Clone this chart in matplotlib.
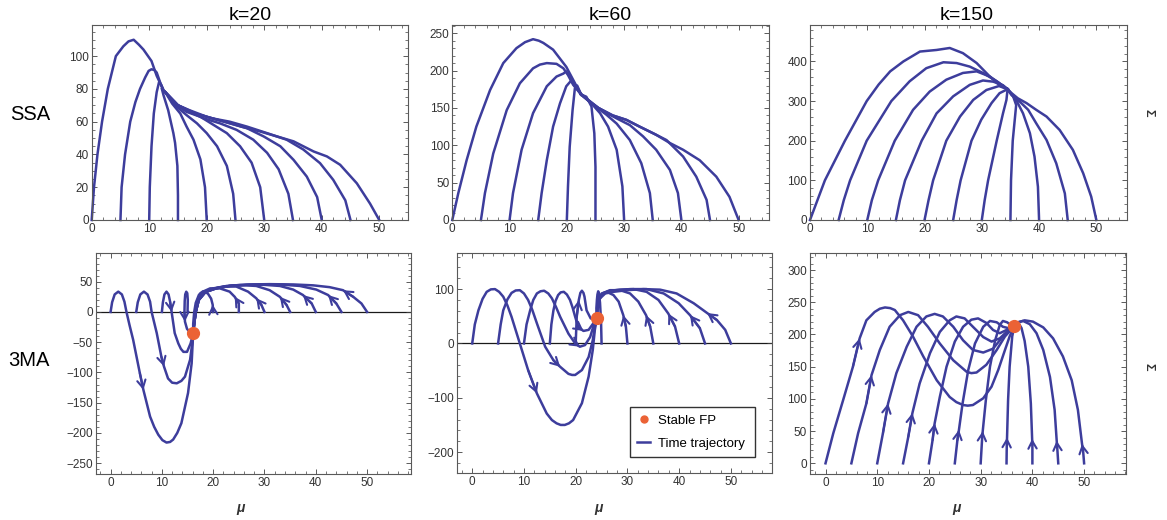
import matplotlib
matplotlib.use('Agg')
import matplotlib.pyplot as plt
from matplotlib.ticker import MultipleLocator

plt.rcParams['font.family'] = ['Liberation Sans', 'DejaVu Sans']

blue = '#3d3d9c'
orange = '#eb6235'

# starting points of the trajectories (mu axis)
starts = [0, 5, 10, 15, 20, 25, 30, 35, 40, 45, 50]

# ---- SSA, k=20 ----
ssa20 = [
    [(0, 0), (0.4, 20), (1.0, 40), (1.8, 60), (2.8, 80), (4.2, 100), (5.5, 106), (6.4, 109), (7.3, 110), (8.2, 107), (9, 104), (10.4, 97), (11.3, 88), (12.5, 79)],
    [(5, 0), (5.2, 20), (5.8, 40), (6.7, 60), (7.6, 72), (8.4, 80), (9.3, 87), (9.9, 91), (10.4, 92), (10.9, 91.5), (11.3, 90), (11.9, 84), (12.5, 79)],
    [(10, 0), (10.1, 20), (10.4, 45), (10.8, 65), (11.3, 78), (11.7, 84), (12, 83), (12.5, 79)],
    [(15, 0), (15, 15), (14.9, 33), (14.5, 47), (14.2, 53), (13.3, 67), (12.5, 76), (12.2, 80)],
    [(20, 0), (19.7, 20), (18.9, 37), (17.7, 49), (16.5, 57), (15.4, 65), (14, 71), (12.8, 78)],
    [(25, 0), (24.6, 16), (23.5, 33), (21.8, 45), (20, 53), (18.3, 59), (16.5, 64), (14.5, 70), (12.8, 78)],
    [(30, 0), (29.3, 20), (27.8, 35), (25.8, 45), (23.5, 53), (21.2, 58), (18.9, 63), (16.5, 66), (14.5, 71), (12.8, 78)],
    [(35, 0), (34.2, 16), (32.5, 31), (30.5, 41), (28.1, 49), (25.2, 55), (22.3, 59), (19.5, 62), (17, 66), (14.5, 71), (12.8, 78)],
    [(40, 0), (39.2, 14), (37.4, 26.5), (35.1, 36.7), (32.8, 45), (29.9, 51), (27, 56), (24.1, 59), (21, 62), (18, 65), (15, 70), (12.8, 78)],
    [(45, 0), (44.1, 12), (42, 24.5), (39.7, 34.7), (36.8, 43), (33.9, 49), (30.5, 53), (27, 57), (24, 60), (21, 62), (18, 65), (15, 70), (12.8, 78)],
    [(50, 0), (48.4, 10), (46.1, 22.4), (43.2, 33.7), (40.9, 38.8), (38.6, 41.8), (35.1, 48), (32.2, 51), (29.3, 54), (26, 57), (23, 60), (20, 63), (17, 67), (15, 70), (12.8, 78)],
]

# ---- SSA, k=60 ----
ssa60 = [
    [(0, 0), (1.05, 36), (2.5, 80), (4.2, 125), (6.6, 174), (8.9, 210), (11.2, 230), (12.7, 238), (14.1, 242), (15.1, 240), (15.9, 237), (17.6, 228), (18.8, 216), (19.9, 205), (20.8, 192), (21.7, 179), (22.5, 168)],
    [(5, 0), (5.7, 36), (7.15, 89), (9.5, 147), (11.8, 183), (14.1, 203), (15.3, 208), (16.5, 210), (18.2, 209), (19.4, 203), (20.2, 194), (21.1, 181), (22.5, 168)],
    [(10, 0), (10.6, 36), (12.1, 94), (14.1, 143), (16.5, 179), (18.2, 192), (19.4, 196), (19.9, 199), (20.5, 192), (21.3, 180), (22.5, 168)],
    [(15, 0), (15.6, 36), (16.5, 80), (17.6, 125), (18.8, 156), (19.9, 179), (20.8, 187), (21.5, 180), (22.5, 168)],
    [(20, 0), (20.2, 45), (20.5, 98), (21, 147), (21.4, 176), (21.8, 180), (22.5, 168)],
    [(25, 0), (25, 71), (24.8, 116), (24.3, 152), (23.4, 165), (22.5, 168)],
    [(30, 0), (29.7, 45), (28.7, 94), (27.2, 125), (25.8, 143), (24.3, 156), (22.5, 168)],
    [(35, 0), (34.5, 36), (33, 76), (31, 107), (28.7, 129), (26.9, 141), (25, 152), (22.5, 168)],
    [(40, 0), (39.4, 36), (38, 67), (35.6, 94), (33.3, 112), (31, 127), (28.7, 136), (26.5, 145), (24.5, 155), (22.5, 168)],
    [(45, 0), (44.4, 27), (42.6, 58), (40.3, 85), (37.4, 107), (35.1, 116), (32.7, 125), (30.4, 134), (28, 140), (25.5, 150), (22.5, 168)],
    [(50, 0), (48.4, 31), (46.1, 58), (43.2, 80), (40.3, 94), (38, 103), (35.6, 114), (32.7, 125), (30.4, 134), (28, 140), (25.5, 150), (22.5, 168)],
]

# ---- SSA, k=150 ----
ssa150 = [
    [(0, 0), (2.6, 100), (6.1, 200), (9.9, 300), (12, 342), (14, 375), (16.3, 400), (19.2, 425), (22.1, 429), (24.4, 434), (26.7, 421), (29.1, 396), (31.4, 362), (33.1, 340), (34.5, 330)],
    [(5, 0), (5.9, 50), (7, 100), (9.9, 200), (14.2, 300), (17.4, 350), (20.3, 383), (23.3, 398), (25.6, 396), (27.9, 387), (30.2, 371), (32.6, 350), (34.5, 330)],
    [(10, 0), (10.8, 50), (11.9, 100), (14.8, 200), (18, 278), (20.9, 324), (23.8, 354), (26.7, 371), (29.1, 375), (31.4, 362), (33.1, 345), (34.5, 330)],
    [(15, 0), (15.7, 50), (16.6, 100), (19.5, 200), (22.1, 269), (25, 312), (27.9, 341), (30.2, 352), (32, 349), (33.7, 340), (34.5, 330)],
    [(20, 0), (20.7, 50), (21.5, 100), (23.8, 200), (26.2, 261), (28.5, 303), (30.8, 328), (33, 338), (34.5, 330)],
    [(25, 0), (25.6, 50), (26.3, 100), (28.2, 200), (29.9, 253), (31.7, 295), (33.1, 320), (34.5, 330)],
    [(30, 0), (30.5, 50), (31.1, 100), (32.6, 200), (33.7, 269), (34.3, 303), (34.5, 330)],
    [(35, 0), (35.1, 100), (35.4, 200), (35.8, 260), (36, 290), (35.4, 315), (34.5, 330)],
    [(40, 0), (39.8, 84), (39.2, 160), (38.4, 219), (37.2, 269), (36, 303), (34.9, 322), (34.5, 330)],
    [(45, 0), (44.5, 67), (43, 143), (41.3, 202), (39.5, 244), (38.1, 278), (36.6, 299), (35.2, 315), (34.5, 330)],
    [(50, 0), (49.1, 59), (47.7, 118), (45.9, 177), (43.6, 227), (41.3, 261), (39.5, 278), (37.8, 295), (36.3, 307), (35.2, 320), (34.5, 330)],
]

# ---- 3MA, k=20 ----
fp20 = (16.1, -35)
ma20 = [
    [(0, 0), (0.3, 16), (0.8, 29), (1.5, 33.6), (2.2, 29), (2.7, 17), (3.1, 0), (3.7, -22), (4.4, -46), (5.7, -101), (6.4, -129), (7.7, -173), (8.5, -190), (9.3, -203), (10.1, -212), (10.9, -216), (11.6, -215), (12.2, -211), (13, -200), (13.8, -184), (15.1, -134), (15.8, -85), (16.1, -35)],
    [(5, 0), (5.3, 16), (5.8, 29), (6.5, 33.6), (7.2, 29), (7.7, 17), (8, 0), (9, -35), (9.9, -74), (10.4, -90), (11.2, -110), (12, -117), (12.9, -118), (13.8, -114), (14.5, -107), (15.5, -79), (16, -46), (16.1, -35)],
    [(10, 0), (10.2, 16), (10.5, 29), (10.9, 33.6), (11.3, 29), (11.6, 17), (11.9, 0), (12.5, -35), (13.2, -52), (13.7, -61), (14.2, -66), (14.9, -66), (15.6, -52), (16.1, -35)],
    [(15, 0), (15.05, 20), (14.95, 31), (14.75, 33.5), (14.55, 29), (14.45, 18), (14.4, 0), (14.5, -16), (14.9, -28), (15.5, -34), (16.1, -35)],
    [(20, 0), (19.9, 12), (19.6, 22), (19, 30), (18.5, 33), (18, 34), (17.5, 31), (17.2, 28), (16.6, 15), (16.3, 0), (16.1, -20), (16.1, -35)],
    [(25, 0), (25, 14), (24.2, 25), (23.2, 33.6), (21.3, 39), (19.4, 39), (18, 33.6), (17.1, 20), (16.6, 0), (16.3, -19), (16.1, -35)],
    [(30, 0), (29.4, 11.6), (28.4, 22.6), (26.8, 33.6), (24.5, 42), (22, 42), (20, 39), (18.2, 33), (17.1, 20), (16.6, 0), (16.3, -19), (16.1, -35)],
    [(35, 0), (34.3, 11.6), (33, 25), (31, 36), (28.4, 43), (25.2, 44.6), (22.6, 43), (20.4, 39), (18.4, 33), (17.2, 20), (16.6, 0), (16.3, -19), (16.1, -35)],
    [(40, 0), (39.2, 14), (37.5, 28), (35.6, 37), (33, 43), (29.7, 45), (26.5, 44.6), (23.2, 43), (20.6, 39), (18.5, 33), (17.2, 20), (16.6, 0), (16.3, -19), (16.1, -35)],
    [(45, 0), (44, 14), (42.4, 28), (40.1, 37), (36.9, 43), (33.6, 45), (30, 45.5), (26.5, 45), (23.2, 43), (20.6, 39), (18.5, 33), (17.2, 20), (16.6, 0), (16.3, -19), (16.1, -35)],
    [(50, 0), (48.9, 14), (47.3, 25), (45.3, 36), (42.7, 41), (39.5, 44), (35.6, 45.5), (31, 46), (27, 45.5), (23.5, 43.5), (20.6, 39.5), (18.5, 33), (17.2, 20), (16.6, 0), (16.3, -19), (16.1, -35)],
]
arrows20 = [10, 9, 6, 7, 1, 2, 2, 2, 2, 2, 3]

# ---- 3MA, k=60 ----
fp60 = (24.1, 47)
ma60 = [
    [(0, 0), (0.5, 35), (1.2, 61), (2, 82), (2.8, 95), (3.6, 99.5), (4.4, 100), (5.2, 95), (6, 86), (6.8, 70), (7.6, 49), (9.2, 0), (10.8, -49), (12.5, -92), (14.4, -129), (15.4, -141), (16.3, -147), (17.1, -150), (17.9, -150), (18.7, -147), (19.5, -141), (21.2, -110), (22.5, -61), (23.3, -12), (23.7, 25), (24.1, 47)],
    [(5, 0), (5.5, 35), (6, 61), (6.8, 81), (7.6, 93), (8.4, 97.5), (9.2, 98), (10, 92), (10.8, 80), (11.6, 62), (12.5, 37), (14.1, -6), (15.7, -31), (17, -43), (18.6, -56), (19.3, -58), (19.9, -58), (21.2, -49), (22.5, -25), (23.3, 6), (23.7, 31), (24.1, 47)],
    [(10, 0), (10.5, 35), (11.2, 61), (11.8, 80), (12.5, 92), (13.2, 96), (13.9, 97), (14.7, 92), (15.4, 83), (16.2, 67), (17, 49), (18.6, 18), (19.9, 0), (20.8, -6), (21.8, -3), (22.8, 12), (23.4, 31), (24.1, 47)],
    [(15, 0), (15.3, 35), (15.7, 61), (16.1, 78), (16.6, 89), (17.1, 94), (17.7, 95), (18.3, 90), (18.9, 80), (19.4, 66), (19.9, 49), (20.5, 30), (21.5, 23), (22.5, 25), (23.4, 37), (24.1, 47)],
    [(20, 0), (20.2, 49), (20.6, 80), (20.9, 93), (21.2, 97), (21.5, 93), (21.7, 86), (22.1, 61), (22.9, 46), (24.1, 47)],
    [(25, 0), (24.9, 40), (24.7, 75), (24.5, 92), (24.35, 96), (24.2, 90), (24.1, 80), (24, 65), (24.1, 47)],
    [(30, 0), (29.7, 31), (29.2, 52), (28.3, 77), (27.3, 89), (26, 95), (25, 92), (24.4, 80), (24.1, 61), (24.1, 47)],
    [(35, 0), (34.4, 31), (33.6, 52), (32.1, 77), (30.5, 92), (28.6, 98), (26.6, 98), (25.4, 93), (24.6, 83), (24.2, 67), (24.1, 47)],
    [(40, 0), (39.2, 31), (37.9, 55), (36, 80), (33.7, 95), (31.2, 100), (28.6, 99), (26.6, 97), (25.3, 92), (24.5, 80), (24.2, 65), (24.1, 47)],
    [(45, 0), (44, 28), (42.1, 52), (39.9, 74), (37, 92), (33.7, 100), (30.5, 100), (27.8, 98), (25.8, 94), (24.7, 85), (24.2, 67), (24.1, 47)],
    [(50, 0), (48.9, 25), (47.3, 43), (45.4, 56), (42.8, 74), (39.5, 92), (36.3, 99), (33.1, 100), (29.9, 98), (27.3, 95), (25.7, 92), (24.7, 83), (24.2, 65), (24.1, 47)],
]
arrows60 = [13, 13, 13, 12, 2, None, 2, 2, 2, 2, 3]

# ---- 3MA, k=150 ----
fp150 = (36.5, 213)
ma150 = [
    [(0, 0), (1.5, 46.6), (3.4, 98), (5.3, 150), (6.6, 194), (7.9, 222), (9.5, 235), (10.5, 240), (11.5, 242), (12.5, 241), (13.4, 238), (15, 222), (16.9, 197), (18.9, 166), (21.5, 129), (24, 103), (25.3, 95), (26.6, 90.5), (27.5, 89.5), (28.5, 90.5), (30.5, 101), (32.1, 119), (33.4, 145), (34.7, 176), (35.6, 197), (36.5, 213)],
    [(5, 0), (6.3, 46.6), (7.9, 93), (8.9, 137), (10.5, 176), (12.4, 212), (14.4, 230), (16, 235), (17.9, 230), (19.8, 212), (22.1, 186), (24.7, 160), (27.3, 142), (28.2, 140), (29.2, 141), (31.1, 153), (33.1, 176), (34.7, 197), (36.5, 213)],
    [(10, 0), (11.1, 46.6), (12.1, 93), (13.7, 140), (15.7, 181), (17.6, 212), (19.5, 228), (21.1, 232), (22.7, 228), (24.7, 212), (26.6, 191), (28.5, 176), (30.5, 172), (32.4, 178), (34.3, 197), (36.5, 213)],
    [(15, 0), (16, 41), (16.8, 78), (18.2, 124), (20.2, 171), (22.1, 204), (24, 222), (25.3, 228), (26.9, 225), (28.5, 212), (30.5, 196), (32.1, 189), (33.7, 194), (35, 204), (36.5, 213)],
    [(20, 0), (20.7, 36), (21.1, 62), (22.1, 103), (23.4, 150), (25, 189), (26.6, 212), (28.2, 223), (29.5, 225), (31.1, 218), (32.4, 207), (33.7, 202), (35, 207), (36.5, 213)],
    [(25, 0), (25.5, 36), (25.8, 52), (26.5, 93), (27.6, 145), (28.9, 186), (30.5, 212), (31.8, 221), (33.1, 219), (34.3, 212), (35.3, 210), (36.5, 213)],
    [(30, 0), (30.3, 41), (30.4, 50), (31, 98), (31.8, 150), (32.8, 191), (33.7, 215), (34.3, 221), (35.1, 219), (35.8, 215), (36.5, 213)],
    [(35, 0), (35.05, 30), (35.1, 40), (35.3, 98), (35.6, 150), (36.1, 197), (36.5, 213)],
    [(40, 0), (40, 28), (39.95, 38), (39.7, 93), (39.2, 150), (38.5, 190), (37.9, 210), (37.3, 218), (36.5, 213)],
    [(45, 0), (44.8, 25), (44.7, 35), (44.3, 83), (43.4, 134), (42.1, 176), (40.8, 202), (39.5, 216), (38.2, 221), (37.2, 219), (36.5, 213)],
    [(50, 0), (49.8, 20), (49.6, 30), (48.8, 83), (47.6, 129), (45.9, 166), (44, 194), (42.1, 211), (40.1, 220), (38.5, 222), (37.3, 219), (36.5, 213)],
]
arrows150 = [4, 3, 2, 2, 2, 2, 2, 2, 2, 2, 2]

titles = ['k=20', 'k=60', 'k=150']

W, H = 1167, 520


def rect(l, t, r, b):
    return [l / W, 1 - b / H, (r - l) / W, (b - t) / H]


fig = plt.figure(figsize=(W / 100, H / 100), dpi=100)

top_rects = [rect(91.7, 25, 408, 220), rect(452.3, 25, 769, 220), rect(810, 25, 1126.7, 220)]
bot_rects = [rect(95.7, 252.7, 410.7, 474), rect(456.7, 252.7, 772.3, 473.3), rect(810, 252.7, 1126, 474)]

top_lims = [((0, 55), (0, 119)), ((0, 55.3), (0, 261)), ((0, 55.3), (0, 492))]
bot_lims = [((-2.9, 58.5), (-268, 98)), ((-3, 58), (-239, 167)), ((-3, 58.1), (-16.6, 327))]
top_yticks = [(20, 5), (50, 10), (100, 20)]
bot_yticks = [(50, 10), (100, 20), (50, 10)]


def style(ax, xl, yl, ymaj, ymin):
    ax.set_xlim(*xl)
    ax.set_ylim(*yl)
    ax.xaxis.set_major_locator(MultipleLocator(10))
    ax.xaxis.set_minor_locator(MultipleLocator(2))
    ax.yaxis.set_major_locator(MultipleLocator(ymaj))
    ax.yaxis.set_minor_locator(MultipleLocator(ymin))
    ax.tick_params(which='both', direction='in', top=True, right=True,
                   labelsize=8.5, colors='0.25', labelcolor='0.2', pad=2)
    ax.tick_params(which='major', length=3.5, width=0.6)
    ax.tick_params(which='minor', length=2, width=0.5)
    for s in ax.spines.values():
        s.set_color('0.35')
        s.set_linewidth(0.8)


ssa_sets = [ssa20, ssa60, ssa150]
for i in range(3):
    ax = fig.add_axes(top_rects[i])
    for curve in ssa_sets[i]:
        xs = [p[0] for p in curve]
        ys = [p[1] for p in curve]
        ax.plot(xs, ys, color=blue, lw=1.8, solid_joinstyle='round', clip_on=False)
    style(ax, top_lims[i][0], top_lims[i][1], *top_yticks[i])

ma_sets = [ma20, ma60, ma150]
fps = [fp20, fp60, fp150]
arrow_sets = [arrows20, arrows60, arrows150]
for i in range(3):
    ax = fig.add_axes(bot_rects[i])
    if i < 2:
        ax.axhline(0, color='0.1', lw=0.9, zorder=1)
    for curve, ai in zip(ma_sets[i], arrow_sets[i]):
        xs = [p[0] for p in curve]
        ys = [p[1] for p in curve]
        ax.plot(xs, ys, color=blue, lw=1.8, solid_joinstyle='round', zorder=2)
        if ai is not None:
            ax.annotate('', xy=curve[ai], xytext=curve[ai - 1],
                        arrowprops=dict(arrowstyle='->,head_length=0.55,head_width=0.3',
                                        color=blue, lw=1.5, shrinkA=0, shrinkB=0),
                        zorder=3)
    ax.plot([fps[i][0]], [fps[i][1]], 'o', color=orange, ms=8.5, zorder=4)
    style(ax, bot_lims[i][0], bot_lims[i][1], *bot_yticks[i])
    if i == 1:
        h1 = plt.Line2D([], [], color=orange, marker='o', ls='none', ms=5)
        h2 = plt.Line2D([], [], color=blue, lw=1.8)
        leg = ax.legend([h1, h2], ['Stable FP', 'Time trajectory'], loc='lower left',
                        bbox_to_anchor=(0.549, 0.074, 0.396, 0.245), mode='expand',
                        borderaxespad=0, fontsize=9.5, frameon=True, fancybox=False,
                        handlelength=1.0, handletextpad=0.6, borderpad=0.55,
                        labelspacing=0.8)
        leg.get_frame().set_edgecolor('black')
        leg.get_frame().set_linewidth(1.0)

# titles and row labels
fig.text(250 / W, 1 - 15 / H, titles[0], ha='center', va='center', fontsize=14)
fig.text(610 / W, 1 - 15 / H, titles[1], ha='center', va='center', fontsize=14)
fig.text(967 / W, 1 - 15 / H, titles[2], ha='center', va='center', fontsize=14)
fig.text(30 / W, 1 - 115 / H, 'SSA', ha='center', va='center', fontsize=14.5)
fig.text(29 / W, 1 - 360 / H, '3MA', ha='center', va='center', fontsize=14.5)
for xp in [240, 598, 957]:
    fig.text(xp / W, 1 - 508 / H, 'μ', ha='center', va='center', fontsize=10,
             style='italic', fontweight='bold', color='0.2')
for yp in [113, 367]:
    fig.text(1148 / W, 1 - yp / H, 'Σ', ha='center', va='center', fontsize=9,
             rotation=270, fontweight='bold', color='0.2')

fig.savefig('out.png', dpi=100)
